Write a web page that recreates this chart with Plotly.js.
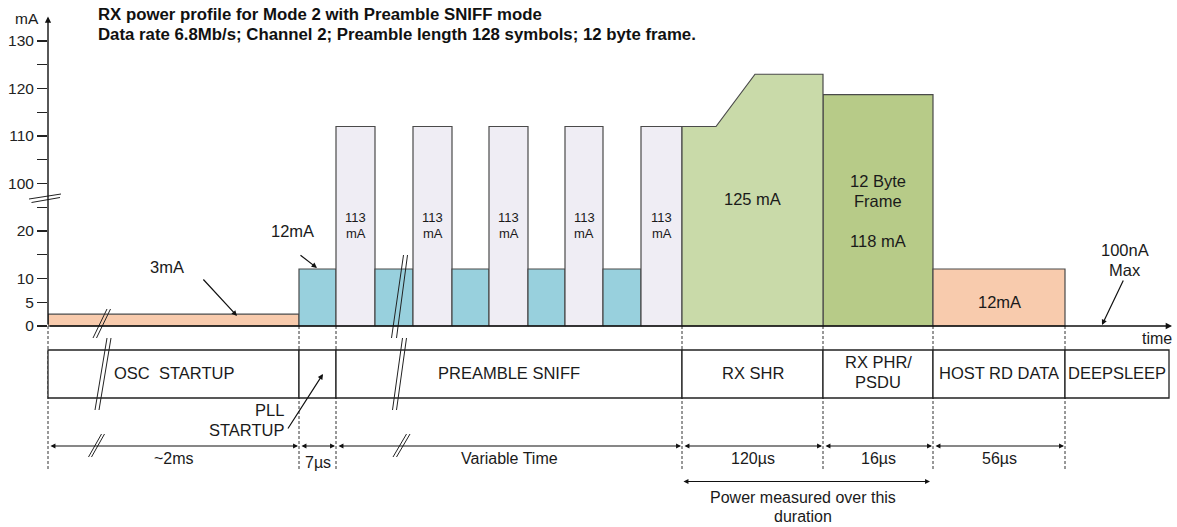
<!DOCTYPE html>
<html><head><meta charset="utf-8">
<script src="https://cdn.plot.ly/plotly-3.0.1.min.js"></script>
<style>html,body{margin:0;padding:0;background:#fff;}#chart{width:1177px;height:527px;}</style>
</head><body><div id="chart"></div>
<script>
// ---------------- data ----------------
const titleLines = ['RX power profile for Mode 2 with Preamble SNIFF mode',
  'Data rate 6.8Mb/s; Channel 2; Preamble length 128 symbols; 12 byte frame.'];
const yTickValues = [0, 5, 10, 15, 20, 25, 100, 105, 110, 115, 120, 125, 130];
const yTickLabels = ['0', '5', '10', '', '20', '', '100', '', '110', '', '120', '', '130'];
// constant-current blocks (schematic time units, mA)
const blockStart   = [0, 251, 288, 327, 365, 404, 441, 480, 517, 555, 593, 775, 885];
const blockEnd     = [251, 288, 327, 365, 404, 441, 480, 517, 555, 593, 634, 885, 1017];
const blockCurrent = [2.5, 12, 112, 12, 112, 12, 112, 12, 112, 12, 112, 118.7, 12];
const blockKind    = ['osc', 'rx', 'sniff', 'rx', 'sniff', 'rx', 'sniff', 'rx', 'sniff', 'rx', 'sniff', 'phr', 'host'];
// RX SHR profile (ramp)
const shrTime    = [634, 634, 668, 707, 775, 775];
const shrCurrent = [0, 112, 112, 123, 123, 0];
// phases (table row)
const phaseEdges = [0, 251, 288, 634, 775, 885, 1017, 1121];
const phaseNames = [['OSC  STARTUP'], [], ['PREAMBLE SNIFF'], ['RX SHR'], ['RX PHR/', 'PSDU'], ['HOST RD DATA'], ['DEEPSLEEP']];
const phaseDurations = ['~2ms', '7µs', 'Variable Time', '120µs', '16µs', '56µs'];
const sniffLabel = ['113', 'mA'];
const shrLabel = '125 mA';
const phrLabel = ['12 Byte', 'Frame', '118 mA'];
const hostLabel = '12mA';
const oscLabel = '3mA';
const pllCurrentLabel = '12mA';
const sleepLabel = ['100nA', 'Max'];
const pllLabel = ['PLL', 'STARTUP'];
const powerLabel = ['Power measured over this', 'duration'];

// ---------------- styles / geometry ----------------
const FONT = 'Liberation Sans, Arial, sans-serif';
const TXT = '#1a1a1a';
const colorByKind = {osc: '#f8cbad', rx: '#98d0dd', sniff: '#efedf4', shr: '#c9daa9', phr: '#b7cb88', host: '#f8cbad'};
const W = 1177, H = 527, ML = 48, PLOTW = W - ML;
const Y0PX = 326, PXPERMA = 4.75;
// broken axis: 0..25 linear, 100..130 shifted down
const disp = v => (v <= 25 ? v : v - 70);
const tPx = t => ML + t;
const PX = px => (px - ML) / PLOTW;
const PY = py => (H - py) / H;

// ---------------- traces ----------------
const traces = [];
for (let i = 0; i < blockStart.length; i++) {
  const s = blockStart[i], e = blockEnd[i], v = disp(blockCurrent[i]);
  traces.push({type: 'scatter', mode: 'lines', x: [s, s, e, e, s], y: [0, v, v, 0, 0],
    fill: 'toself', fillcolor: colorByKind[blockKind[i]], line: {color: '#4a4a4a', width: 1.2},
    hoverinfo: 'skip', showlegend: false});
}
traces.push({type: 'scatter', mode: 'lines', x: shrTime.concat([shrTime[0]]), y: shrCurrent.map(disp).concat([0]),
  fill: 'toself', fillcolor: colorByKind.shr, line: {color: '#4a4a4a', width: 1.2}, hoverinfo: 'skip', showlegend: false});

// ---------------- decorations ----------------
const ann = [];
function txt(text, px, py, size, extra) {
  ann.push(Object.assign({xref: 'paper', yref: 'paper', x: PX(px), y: PY(py), text: text, showarrow: false,
    xanchor: 'center', yanchor: 'middle', font: {family: FONT, size: size || 16.5, color: TXT}}, extra || {}));
}
function arrow(tx, ty, hx, hy, both, w) {
  ann.push({xref: 'paper', yref: 'paper', x: PX(hx), y: PY(hy), ax: tx - hx, ay: ty - hy, text: '',
    showarrow: true, arrowhead: 2, arrowsize: 0.9, arrowwidth: w || 1.2, arrowcolor: '#111',
    standoff: 0, startstandoff: 0, arrowside: both ? 'end+start' : 'end', startarrowhead: 2, startarrowsize: 0.9});
}
const shapes = [];
function seg(x0, y0, x1, y1, color, width, dash) {
  shapes.push({type: 'line', xref: 'paper', yref: 'paper', x0: PX(x0), y0: PY(y0), x1: PX(x1), y1: PY(y1),
    line: {color: color || '#111', width: width || 1.2, dash: dash || 'solid'}});
}

// titles
txt('<b>' + titleLines[0] + '</b>', 96, 14.5, 16.8, {xanchor: 'left', font: {family: FONT, size: 16.8, color: '#111'}});
txt('<b>' + titleLines[1] + '</b>', 96, 34, 16.8, {xanchor: 'left', font: {family: FONT, size: 16.8, color: '#111'}});

// axes
arrow(ML, Y0PX, ML, 16.5, false, 1.4);
arrow(ML, Y0PX, 1172, Y0PX, false, 1.4);
txt('mA', 27, 19, 15.5);
txt('time', 1157, 338, 16);
// y-axis break
seg(29, 199, 61, 194, '#222', 1);
seg(31.5, 202.5, 60, 197.5, '#222', 1);

// dashed phase boundaries
for (let i = 0; i < phaseEdges.length - 1; i++) seg(tPx(phaseEdges[i]), Y0PX, tPx(phaseEdges[i]), 471, '#333', 1, '3px,2px');
// table row
for (let i = 0; i < phaseNames.length; i++) {
  shapes.push({type: 'rect', xref: 'paper', yref: 'paper', x0: PX(tPx(phaseEdges[i])), x1: PX(tPx(phaseEdges[i + 1])),
    y0: PY(350), y1: PY(398), fillcolor: '#fff', line: {color: '#222', width: 1.3}});
  const cx = (tPx(phaseEdges[i]) + tPx(phaseEdges[i + 1])) / 2;
  const nm = phaseNames[i];
  if (nm.length === 1) txt(nm[0], cx, 373, 16.5);
  if (nm.length === 2) { txt(nm[0], cx, 362, 16.5); txt(nm[1], cx, 382, 16.5); }
}
// durations
for (let i = 0; i < phaseDurations.length; i++) {
  const a = tPx(phaseEdges[i]) + 1, b = tPx(phaseEdges[i + 1]) - 1;
  arrow(a, 446, b, 446, true, 1.1);
  txt(phaseDurations[i], (a + b) / 2, i === 1 ? 462 : 458, 16);
}
// power measured span
arrow(tPx(phaseEdges[3]), 481.5, tPx(phaseEdges[5]) - 3, 481.5, true, 1.1);
txt(powerLabel[0], 803, 497, 16);
txt(powerLabel[1], 803, 516.5, 16);

// block labels
txt(oscLabel, 167, 267, 16.5);
arrow(202, 278, 237, 316);
txt(pllCurrentLabel, 292, 231, 16.5);
arrow(299, 254, 317, 268);
for (let i = 0; i < blockKind.length; i++) {
  if (blockKind[i] !== 'sniff') continue;
  const cx = tPx((blockStart[i] + blockEnd[i]) / 2);
  txt(sniffLabel[0], cx, 217.7, 13);
  txt(sniffLabel[1], cx, 233.3, 13);
}
txt(shrLabel, tPx((shrTime[0] + shrTime[shrTime.length - 1]) / 2), 199, 16.5);
const phrX = tPx((blockStart[11] + blockEnd[11]) / 2);
txt(phrLabel[0], phrX, 181, 16.5);
txt(phrLabel[1], phrX, 201, 16.5);
txt(phrLabel[2], phrX, 241, 16.5);
txt(hostLabel, tPx((blockStart[12] + blockEnd[12]) / 2), 302, 16.5);
txt(sleepLabel[0], 1125, 250, 16.5);
txt(sleepLabel[1], 1125, 270, 16.5);
arrow(1124, 279, 1102, 325);
txt(pllLabel[0], 286, 409.5, 16.5, {xanchor: 'right'});
txt(pllLabel[1], 286, 429.5, 16.5, {xanchor: 'right'});
arrow(287, 430, 323, 374);

// break marks on time axis
const breaks = [
  [93, 338, 107, 309], [96.5, 338, 110.5, 309],
  [95, 410, 107, 338], [99, 410, 111, 338],
  [88.5, 457, 101.5, 434], [91.5, 457, 104.5, 434],
  [391.5, 338, 403.5, 255], [396.5, 338, 407.5, 255],
  [392.5, 410, 402.5, 338], [396.5, 410, 406.5, 338],
  [393, 457, 406.5, 434], [396.5, 457, 410, 434]];
breaks.forEach(b => seg(b[0], b[1], b[2], b[3], '#222', 1));

const layout = {
  width: W, height: H, margin: {l: ML, r: 0, t: 0, b: 0},
  paper_bgcolor: '#fff', plot_bgcolor: '#fff', showlegend: false,
  xaxis: {range: [0, PLOTW], visible: false, fixedrange: true},
  yaxis: {range: [(Y0PX - H) / PXPERMA, Y0PX / PXPERMA], tickmode: 'array',
    tickvals: yTickValues.map(disp), ticktext: yTickLabels, ticks: 'outside', ticklen: 10, tickwidth: 1.2,
    tickcolor: '#222', showgrid: false, zeroline: false, showline: false, fixedrange: true,
    tickfont: {family: FONT, size: 15.5, color: '#222'}},
  annotations: ann, shapes: shapes
};
Plotly.newPlot('chart', traces, layout, {staticPlot: true, displayModeBar: false});
</script></body></html>
